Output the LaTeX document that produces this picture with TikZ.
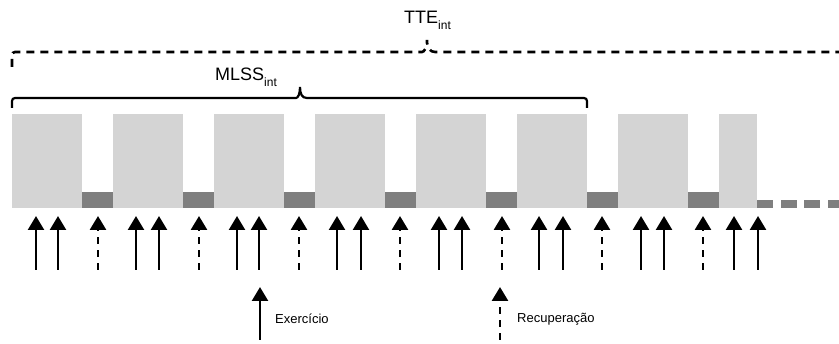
\documentclass[tikz,border=0pt]{standalone}
\usepackage{fontspec}
\setmainfont{Liberation Sans}
\usetikzlibrary{arrows.meta}
\definecolor{lightbar}{HTML}{D4D4D4}
\definecolor{darkbar}{HTML}{7F7F7F}
\tikzset{
  lightbox/.style={fill=lightbar,draw=none},
  darkbox/.style={fill=darkbar,draw=none},
  exarrow/.style={line width=2.5pt,-{Triangle[width=16pt,length=14pt]}},
  recarrow/.style={line width=2.6pt,dash pattern=on 7pt off 6pt,-{Triangle[width=16pt,length=14pt]}},
  solidbrace/.style={line width=2.2pt,rounded corners=3pt},
  dashbrace/.style={line width=2.6pt,dash pattern=on 8pt off 6pt,rounded corners=3pt},
  biglabel/.style={inner sep=0pt,anchor=base west,font=\fontsize{18}{20}\selectfont},
  legendlabel/.style={inner sep=0pt,anchor=west,font=\fontsize{13}{15}\selectfont},
}
\newcommand{\subint}{\raisebox{-6pt}{\fontsize{12}{12}\selectfont int}}
\begin{document}
\begin{tikzpicture}[x=1pt,y=-1pt]
\useasboundingbox (0,0) rectangle (839,344);
% bars
\foreach \i in {0,...,6}{
  \fill[lightbox] ({12+101*\i},114) rectangle ({82+101*\i},208);
  \fill[darkbox] ({82+101*\i},192) rectangle ({113+101*\i},208);
}
\fill[lightbox] (719,114) rectangle (757,208);
\foreach \x in {757,781,804,828}{
  \fill[darkbox] (\x,200) rectangle ({min(\x+16,839)},208);
}
% exercise arrows
\foreach \x [count=\k] in {36,58,136,159,237,259,337,361,439,462,539,563,641,664,734,758}{
  \coordinate (eb\k) at (\x,270);
  \coordinate (et\k) at (\x,216);
  \draw[exarrow] (eb\k) -- (et\k);
}
% recovery arrows
\foreach \x [count=\k] in {98,199,299,400,502,602,703}{
  \coordinate (rb\k) at (\x,270);
  \coordinate (rt\k) at (\x,216);
  \draw[recarrow] (rb\k) -- (rt\k);
}
% MLSS brace
\coordinate (mlssL) at (12,108);
\coordinate (mlssT) at (300,87);
\coordinate (mlssR) at (587,108);
\draw[solidbrace] (mlssL) -- (12,98) -- (293,98) [sharp corners]
  .. controls (298,98) and (300,94) .. (mlssT)
  .. controls (300,94) and (302,98) .. (307,98) [rounded corners=3pt] -- (587,98) -- (mlssR);
% TTE brace
\coordinate (tteL) at (12,67);
\coordinate (tteT) at (427,40);
\coordinate (tteR) at (845,52);
\draw[dashbrace] (tteL) -- (12,52) -- (419,52) [sharp corners]
  .. controls (424,52) and (427,48) .. (tteT)
  .. controls (427,48) and (430,52) .. (435,52) -- (tteR);
\node[biglabel] (tte) at (404,23.3) {TTE\subint};
\node[biglabel] (mlss) at (215,81) {MLSS\subint};
% legend
\coordinate (lexb) at (260,340);
\coordinate (lext) at (260,287);
\draw[exarrow] (lexb) -- (lext);
\node[legendlabel] (lex) at (275,319) {Exercício};
\coordinate (lrecb) at (500,340);
\coordinate (lrect) at (500,287);
\draw[recarrow] (lrecb) -- (lrect);
\node[legendlabel] (lrec) at (517,319) {Recuperação};
\end{tikzpicture}
\end{document}
